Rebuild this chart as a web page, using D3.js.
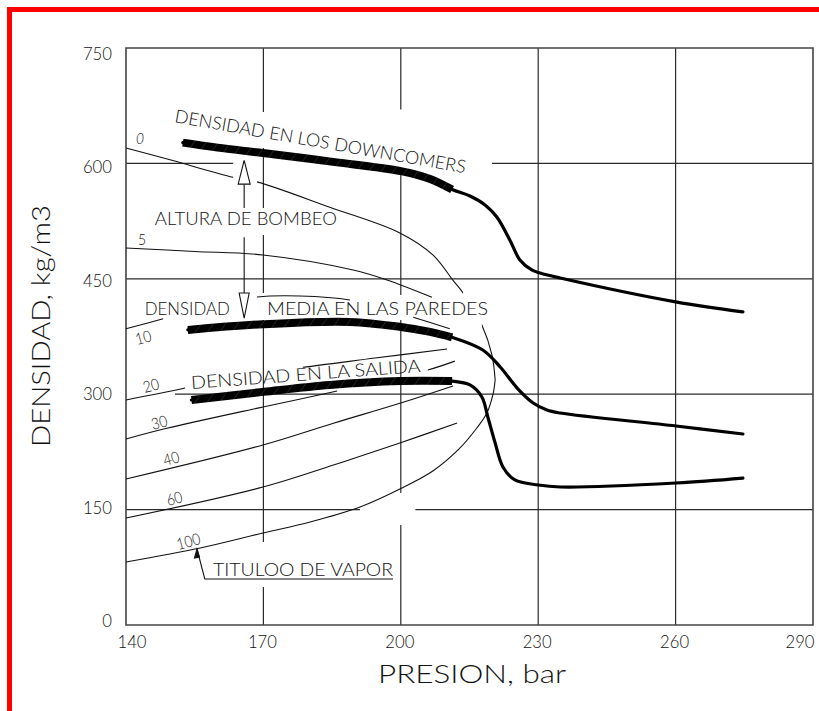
<!DOCTYPE html>
<html><head><meta charset="utf-8">
<script src="https://cdn.jsdelivr.net/npm/d3@7"></script>
<style>
html,body{margin:0;padding:0;background:#fff;}
svg{display:block;}
</style></head><body>
<script>
// ---------------- DATA ----------------
const pressureTicks = [140, 170, 200, 230, 260, 290];
const densityTicks  = [0, 150, 300, 450, 600, 750];

// Density curves [pressure (bar), density (kg/m3)]
const downcomers = [[152.4,627],[160,620.5],[169.9,613.5],[185.2,602],[200,590],[206.4,579.8],[211.2,566],
  [215.1,557.6],[218.4,546],[221.0,530],[223.8,500.5],[226.0,474.5],[228.6,461.5],[230.4,457.5],[234.8,451],[260,420],[274.7,407]];
const paredes = [[153.5,383.5],[169.9,391],[188.9,394],[200,387.4],[206.4,381],[211.2,374],
  [217.9,357.5],[221.7,335.4],[225.4,308],[228.9,288.6],[231.9,279.5],[234.8,275.6],[260.1,258.7],[274.7,248.3]];
const salida = [[154.3,292.5],[169.9,303],[184.5,312],[200,317],[211.2,317],
  [215.1,312],[217.7,296.4],[219,270.4],[220.6,236.6],[222.3,205.4],[224.9,188.5],[230,182],[234.8,179.4],[260.1,184.6],[274.7,191]];
const thickEnd = [211.2, 211.2, 211.2];   // pressure where the thick (hatched) part ends

// Steam quality lines (titulo de vapor, %)
const qualityNames = ["0","5","10","20","30","40","60","100"];
const q0   = [[140,620],[150,604],[163.4,582],[168.6,576],[184.5,543],[199.8,509.6],[207,481],[211.4,448],[213.6,431.6],[217.7,390],[219.9,351],[220.6,318.5]];
const q5   = [[140,490],[155,485.5],[169.9,481],[189.6,461.5],[197,448.5],[206.8,426]];
const q10  = [[140,385],[148.1,398],[158.3,414.6],[168.6,426.4],[178,427.7],[188.9,422.5],[196,412],[202.7,400],[210.7,385]];
const q20  = [[140,292.5],[152.9,308],[167,328],[178.6,335],[194.4,347],[210.1,358.8]];
const q30  = [[140,241.8],[148.9,255.7],[169.9,283.4],[186.1,304.2],[205.9,331.5],[211.8,343]];
const q40  = [[140,189.8],[169.9,234],[185.3,262.3],[199.8,288.2],[211.4,310.7]];
const q60  = [[140,139],[169.9,179.4],[185.3,208],[199.8,236.6],[212.3,262.6]];
const q100 = [[140,81.9],[156.2,100.1],[169.9,119.6],[180.2,133.9],[191.1,153.4],[199.8,176.8],[207,200.2],[212.5,227.5],[216.6,256.1],[218.8,275.6],[220.1,299],[220.6,318.5]];
const qualitySeries = [q0, q5, q10, q20, q30, q40, q60, q100];
// pressure ranges where each line is interrupted (text / arrows)
const qualityGaps = [[[163.4,168.6],[213.6,217.7]], [], [[148.1,168.6],[188.9,202.7]], [[152.9,178.6]], [[186.1,205.9]], [], [], []];

// Grid lines and their visible stretches
const gridPressures = [170, 200, 230, 260];
const gridPressureVisible = [
  [[666.8,750],[542,620],[431.6,507],[108,396.5],[0,49.4]],
  [[670,750],[429,592],[171.6,396.5],[0,130]],
  [[0,750]], [[0,750]]];
const gridDensities = [150, 300, 450, 600];
const gridDensityVisible = [
  [[140,191.1],[203.2,290]], [[150.7,290]], [[140,290]], [[140,163.4],[219.9,290]]];

// Annotation texts
const noteTexts = ["DENSIDAD EN LOS DOWNCOMERS","ALTURA DE BOMBEO","DENSIDAD","MEDIA EN LAS PAREDES","DENSIDAD EN LA SALIDA","TITULOO DE VAPOR"];
const xTitle = "PRESION, bar";
const yTitle = "DENSIDAD, kg/m3";

// -------------- LAYOUT --------------
const W = 819, H = 711;
const x = d3.scaleLinear().domain([140, 290]).range([126, 813]);
const y = d3.scaleLinear().domain([0, 750]).range([625, 48]);
const FONT = "Lato,'DejaVu Sans',sans-serif";
const FW = 300;

const svg = d3.select("body").append("svg").attr("width", W).attr("height", H);
const defs = svg.append("defs");
const pat = defs.append("pattern").attr("id","hatch").attr("patternUnits","userSpaceOnUse")
  .attr("width",10).attr("height",10).attr("patternTransform","rotate(35)");
pat.append("rect").attr("width",10).attr("height",10).attr("fill","#000");
pat.append("line").attr("x1",0).attr("y1",0).attr("x2",0).attr("y2",10).attr("stroke","#666").attr("stroke-width",0.6);

svg.append("rect").attr("x",0).attr("y",0).attr("width",W).attr("height",H).attr("fill","#fff");

// red border (top and left)
svg.append("rect").attr("x",7).attr("y",7).attr("width",W-7).attr("height",5).attr("fill","#ff0000");
svg.append("rect").attr("x",7).attr("y",7).attr("width",5).attr("height",H-7).attr("fill","#ff0000");

// grid
const grid = svg.append("g").attr("stroke","#2a2a2a").attr("stroke-width",1.2);
gridPressures.forEach((p,i)=>{
  gridPressureVisible[i].forEach(r=>{
    grid.append("line").attr("x1",x(p)).attr("x2",x(p)).attr("y1",y(r[0])).attr("y2",y(r[1]));
  });
});
gridDensities.forEach((d,i)=>{
  gridDensityVisible[i].forEach(r=>{
    grid.append("line").attr("y1",y(d)).attr("y2",y(d)).attr("x1",x(r[0])).attr("x2",x(r[1]));
  });
});

// frame
svg.append("path").attr("d",`M${x(140)},${y(0)}V${y(750)}H${x(290)}V${y(0)}Z`)
  .attr("fill","none").attr("stroke","#444").attr("stroke-width",1.6);

// axes (labels only)
const xAxisG = svg.append("g").attr("transform",`translate(0,${y(0)})`)
  .call(d3.axisBottom(x).tickValues(pressureTicks).tickSize(0).tickPadding(10).tickFormat(d3.format("d")));
xAxisG.select(".domain").remove();
xAxisG.selectAll("text").attr("font-family",FONT).attr("font-weight",FW).attr("font-size",18).attr("fill","#111")
  .attr("textLength",29).attr("lengthAdjust","spacingAndGlyphs")
  .each(function(d,i){
    const t = d3.select(this);
    if (i===0) t.attr("text-anchor","start").attr("x",-9);
    else if (i===pressureTicks.length-1) t.attr("text-anchor","end").attr("x",1);
    else t.attr("x",-1.5);
  });
const yAxisG = svg.append("g").attr("transform",`translate(${x(140)},0)`)
  .call(d3.axisLeft(y).tickValues(densityTicks).tickSize(0).tickPadding(14).tickFormat(d3.format("d")));
yAxisG.select(".domain").remove();
yAxisG.selectAll("text").attr("font-family",FONT).attr("font-weight",FW).attr("font-size",18).attr("fill","#111")
  .attr("textLength",d=>String(d).length*9.7).attr("lengthAdjust","spacingAndGlyphs")
  .attr("y",d=>-4+9.5*d/750);

// axis titles
svg.append("text").attr("x",472).attr("y",683).attr("text-anchor","middle")
  .attr("font-family",FONT).attr("font-weight",FW).attr("font-size",26).attr("fill","#111")
  .attr("textLength",188).attr("lengthAdjust","spacingAndGlyphs").text(xTitle);
svg.append("text").attr("transform","translate(50,326) rotate(-90)").attr("text-anchor","middle")
  .attr("font-family",FONT).attr("font-weight",FW).attr("font-size",26).attr("fill","#111")
  .attr("textLength",242).attr("lengthAdjust","spacingAndGlyphs").text(yTitle);

// line generator
const line = d3.line().x(d=>x(d[0])).y(d=>y(d[1])).curve(d3.curveCatmullRom.alpha(0.5));

// quality lines with gaps (clip paths)
qualitySeries.forEach((pts,i)=>{
  const id = "qclip"+i;
  const cp = defs.append("clipPath").attr("id",id);
  let start = 130;
  const gaps = qualityGaps[i].slice().sort((a,b)=>a[0]-b[0]);
  gaps.concat([[300,300]]).forEach(g=>{
    cp.append("rect").attr("x",x(start)).attr("y",0).attr("width",Math.max(0,x(g[0])-x(start))).attr("height",H);
    start = g[1];
  });
  svg.append("path").attr("d",line(pts)).attr("fill","none").attr("stroke","#111")
    .attr("stroke-width",1.1).attr("clip-path",`url(#${id})`);
});

// quality labels
const qLab = [
  {p:142.2,d:625,a:0,it:true},{p:142.6,d:494,a:0},{p:142.4,d:364,a:-15},{p:144.1,d:301.6,a:-15},
  {p:145.9,d:253.5,a:-15},{p:148.5,d:206.7,a:-15},{p:149.2,d:154.7,a:-15},{p:151.4,d:97.5,a:-15}];
qualityNames.forEach((n,i)=>{
  const L = qLab[i];
  svg.append("text").attr("transform",`translate(${x(L.p)},${y(L.d)}) rotate(${L.a})`)
    .attr("font-family",FONT).attr("font-weight",FW).attr("font-size",16).attr("fill","#111")
    .attr("font-style",L.it?"italic":"normal")
    .attr("textLength",n.length*8).attr("lengthAdjust","spacingAndGlyphs").text(n);
});

// density curves: thin full curve + thick hatched start
[downcomers, paredes, salida].forEach((pts,i)=>{
  svg.append("path").attr("d",line(pts)).attr("fill","none").attr("stroke","#000")
    .attr("stroke-width",3.2).attr("stroke-linecap","round");
  const thick = pts.filter(d=>d[0]<=thickEnd[i]);
  svg.append("path").attr("d",line(thick)).attr("fill","none").attr("stroke","url(#hatch)")
    .attr("stroke-width",8).attr("stroke-linecap","butt");
});

// annotation texts
const noteLayout = [
  {p:150.5,d:653.8,a:10,len:295},
  {p:146.3,d:520,a:0,len:182},
  {p:144.1,d:403,a:0,len:85},
  {p:170.8,d:403,a:0,len:221},
  {p:154.3,d:306.8,a:-4.25,len:230},
  {p:159,d:63.7,a:0,len:180}];
noteTexts.forEach((t,i)=>{
  const L = noteLayout[i];
  svg.append("text").attr("transform",`translate(${x(L.p)},${y(L.d)}) rotate(${L.a})`)
    .attr("font-family",FONT).attr("font-weight",FW).attr("font-size",18).attr("fill","#111")
    .attr("textLength",L.len).attr("lengthAdjust","spacingAndGlyphs").text(t);
});

// ALTURA DE BOMBEO arrows
const pumpP = 165.8;
const ann = svg.append("g").attr("stroke","#111").attr("stroke-width",1.1).attr("fill","#fff");
[[573,542],[504,431.5]].forEach(r=>{
  ann.append("line").attr("x1",x(pumpP)).attr("x2",x(pumpP)).attr("y1",y(r[0])).attr("y2",y(r[1]));
});
ann.append("path").attr("d",`M${x(pumpP)},${y(604)}L${x(pumpP)-6},${y(573)}H${x(pumpP)+6}Z`);
ann.append("path").attr("d",`M${x(pumpP)},${y(399)}L${x(pumpP)-5},${y(431.5)}H${x(pumpP)+5}Z`);

// TITULO DE VAPOR leader
ann.append("path").attr("fill","none")
  .attr("d",`M${x(198.3)},${y(59.8)}H${x(157.2)}L${x(155.5)},${y(98.8)}`);
ann.append("path").attr("fill","#111")
  .attr("d",`M${x(155.5)},${y(98.8)}L${x(155.5)-2.5},${y(98.8)+9}L${x(155.5)+2.5},${y(98.8)+8}Z`);
</script>
</body></html>
